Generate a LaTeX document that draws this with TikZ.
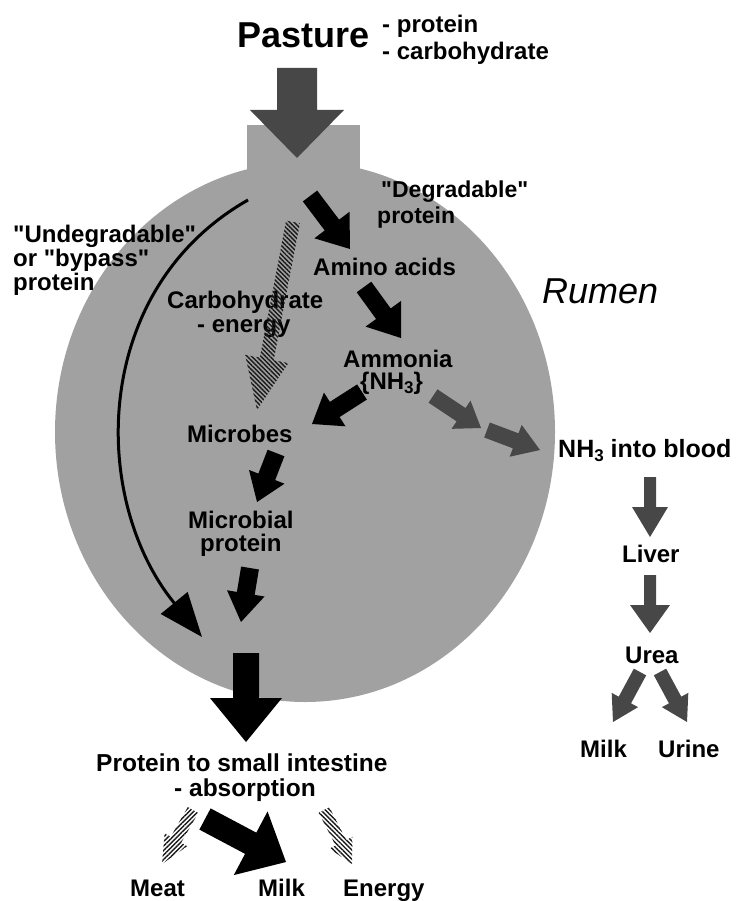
\documentclass[tikz,border=0pt]{standalone}
\usepackage{fontspec}
\setmainfont{Liberation Sans}
\usetikzlibrary{calc,arrows.meta,patterns.meta}

\newcommand\blockarrow[6]{%
  \coordinate (bN) at ($(#3)!#6!(#2)$);
  \fill[#1] ($(#2)!#4!90:(#3)$) -- ($(bN)!#4!90:(#3)$) -- ($(bN)!#5!90:(#3)$) -- (#3)
    -- ($(bN)!#5!-90:(#3)$) -- ($(bN)!#4!-90:(#3)$) -- ($(#2)!#4!-90:(#3)$) -- cycle;}
\newcommand\lowthree{\raisebox{-0.35ex}{\fontsize{17}{17}\selectfont 3}}
\newcommand\dq{\textquotedbl}

\tikzset{
  txt/.style={inner sep=0pt, anchor=base west, font=\fontsize{24}{28}\selectfont\bfseries},
  bigtxt/.style={txt, font=\fontsize{36}{40}\selectfont\bfseries},
  rumenfill/.style={fill=black!37},
  solidarrow/.style={fill=black},
  darkarrow/.style={fill=black!72},
  hatcharrow/.style={pattern={Lines[angle=45,distance=3.2pt,line width=1.4pt]}, pattern color=black!90},
  hatcharrowb/.style={pattern={Lines[angle=-45,distance=3.2pt,line width=1.4pt]}, pattern color=black!90},
}

\begin{document}
\begin{tikzpicture}[x=1pt,y=-1pt]
\useasboundingbox (0,0) rectangle (738,901);

% rumen body
\fill[rumenfill] (305,432) ellipse [x radius=250, y radius=270];
\fill[rumenfill] (247,125) rectangle (360,200);

% texts
\node[bigtxt] (pasture) at (237,48) {Pasture};
\node[txt] (pprot) at (382,33) {- protein};
\node[txt] (pcarb) at (382,60) {- carbohydrate};
\node[txt, font=\fontsize{23}{26}\selectfont\bfseries] (degr) at (381,198) {\dq Degradable\dq};
\node[txt, font=\fontsize{23}{26}\selectfont\bfseries] (degr2) at (377,224) {protein};
\node[txt, font=\fontsize{36}{40}\selectfont\itshape] (rumen) at (542,303) {Rumen};
\node[txt] (undeg) at (13,243) {\dq Undegradable\dq};
\node[txt] (undeg2) at (13,266) {or \dq bypass\dq};
\node[txt] (undeg3) at (13,290) {protein};
\node[txt] (amino) at (313,275) {Amino acids};
\node[txt] (carb) at (167,308) {Carbohydrate};
\node[txt] (carb2) at (197,332) {- energy};
\node[txt] (ammonia) at (343,367) {Ammonia};
\node[txt] (nh3) at (360,389) {\{NH\lowthree\}};
\node[txt] (microbes) at (187,442) {Microbes};
\node[txt] (mprot) at (188,528) {Microbial};
\node[txt] (mprot2) at (200,551) {protein};
\node[txt, font=\fontsize{25}{29}\selectfont\bfseries] (blood) at (558,457) {NH\lowthree{} into blood};
\node[txt] (liver) at (622,562) {Liver};
\node[txt] (urea) at (625,663) {Urea};
\node[txt] (milkr) at (580,757) {Milk};
\node[txt] (urine) at (658,757) {Urine};
\node[txt, font=\fontsize{24.5}{29}\selectfont\bfseries] (psi) at (96,771) {Protein to small intestine};
\node[txt, font=\fontsize{24.5}{29}\selectfont\bfseries] (abs) at (174,796) {- absorption};
\node[txt] (meat) at (130,896) {Meat};
\node[txt] (milkb) at (258,896) {Milk};
\node[txt] (energy) at (343,896) {Energy};

% arrow end points
\coordinate (pa1) at (297,68);   \coordinate (pa2) at (297,158);
\coordinate (dg1) at (310,196);  \coordinate (dg2) at (350,249);
\coordinate (am1) at (364,287);  \coordinate (am2) at (401,338);
\coordinate (mi1) at (362,392);  \coordinate (mi2) at (312,424);
\coordinate (mp1) at (276,453);  \coordinate (mp2) at (257,502);
\coordinate (sm1) at (250,568);  \coordinate (sm2) at (241,622);
\coordinate (bg1) at (246,653);  \coordinate (bg2) at (246,742);
\coordinate (cb1) at (293,222);  \coordinate (cb2) at (257,410);
\coordinate (nb1) at (433,396);  \coordinate (nb2) at (481,428);
\coordinate (nc1) at (487,430);  \coordinate (nc2) at (540,450);
\coordinate (lv1) at (650,477);  \coordinate (lv2) at (650,537);
\coordinate (ur1) at (650,575);  \coordinate (ur2) at (650,633);
\coordinate (uk1) at (640,672);  \coordinate (uk2) at (613,722);
\coordinate (un1) at (660,672);  \coordinate (un2) at (687,722);
\coordinate (me1) at (193,810);  \coordinate (me2) at (162,864);
\coordinate (mk1) at (205,819);  \coordinate (mk2) at (286,862);
\coordinate (en1) at (324,810);  \coordinate (en2) at (352,864);
\coordinate (bp1) at (248,200);  \coordinate (bp2) at (202,637);

% arrows
\blockarrow{darkarrow}{pa1}{pa2}{20pt}{47pt}{48pt}
\blockarrow{hatcharrowb}{cb1}{cb2}{7pt}{22pt}{52pt}
\blockarrow{solidarrow}{dg1}{dg2}{9pt}{22pt}{30pt}
\blockarrow{solidarrow}{am1}{am2}{9pt}{22pt}{30pt}
\blockarrow{solidarrow}{mi1}{mi2}{9pt}{20pt}{27pt}
\blockarrow{solidarrow}{mp1}{mp2}{9pt}{19pt}{27pt}
\blockarrow{solidarrow}{sm1}{sm2}{9pt}{19pt}{29pt}
\blockarrow{solidarrow}{bg1}{bg2}{13pt}{36pt}{44pt}
\blockarrow{darkarrow}{nb1}{nb2}{8pt}{17pt}{24pt}
\blockarrow{darkarrow}{nc1}{nc2}{8pt}{17pt}{26pt}
\blockarrow{darkarrow}{lv1}{lv2}{6pt}{18pt}{30pt}
\blockarrow{darkarrow}{ur1}{ur2}{6pt}{20pt}{28pt}
\blockarrow{darkarrow}{uk1}{uk2}{7pt}{15pt}{25pt}
\blockarrow{darkarrow}{un1}{un2}{7pt}{15pt}{25pt}
\blockarrow{hatcharrow}{me1}{me2}{6pt}{13pt}{28pt}
\blockarrow{solidarrow}{mk1}{mk2}{12pt}{36pt}{40pt}
\blockarrow{hatcharrowb}{en1}{en2}{6pt}{13pt}{24pt}

% bypass curve
\draw[line width=3pt, -{Triangle[length=44pt,width=34pt]}]
  (bp1) .. controls (90,290) and (90,500) .. (bp2);
\end{tikzpicture}
\end{document}
